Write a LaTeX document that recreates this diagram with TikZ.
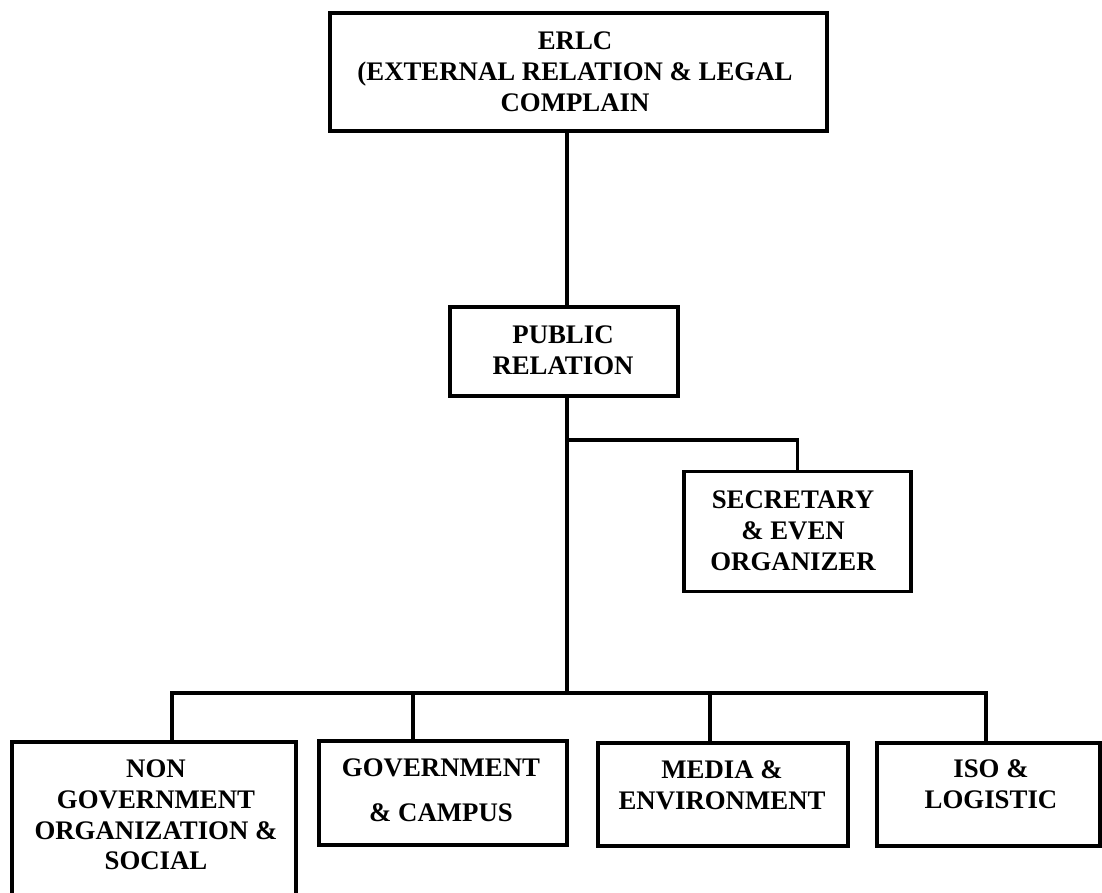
\documentclass[tikz,border=0pt]{standalone}
\usepackage{fontspec}
\setmainfont{Liberation Serif}
\begin{document}
\begin{tikzpicture}[x=1pt,y=-1pt,
  box/.style={draw, line width=3.8pt, rectangle, inner sep=0pt, fill=white},
  conn/.style={line width=3.8pt, line join=miter},
  lbl/.style={font=\bfseries\fontsize{26.8}{30.8}\selectfont, align=center, inner sep=0pt}]
\useasboundingbox (0,0) rectangle (1102,892);
\clip (0,0) rectangle (1102,892);
% boxes
\node[box, minimum width=497pt, minimum height=118pt] (erlc) at (578.5,72) {};
\node[box, minimum width=228pt, minimum height=89pt] (public) at (564,351.5) {};
\node[box, minimum width=227pt, minimum height=120pt] (sec) at (797.5,531.5) {};
\node[box, minimum width=284pt, minimum height=178pt] (non) at (154,831) {};
\node[box, minimum width=248pt, minimum height=104pt] (gov) at (443,793) {};
\node[box, minimum width=250pt, minimum height=103pt] (media) at (723,794.5) {};
\node[box, minimum width=223pt, minimum height=103pt] (iso) at (988.5,794.5) {};
% labels
\node[lbl] (erlcT) at (575,72) {ERLC\\(EXTERNAL RELATION \& LEGAL\\COMPLAIN};
\node[lbl] (publicT) at (563,350) {PUBLIC\\RELATION};
\node[lbl] (secT) at (793,531) {SECRETARY\\\& EVEN\\ORGANIZER};
\node[lbl] (nonT) at (156,815) {NON\\GOVERNMENT\\ORGANIZATION \&\\SOCIAL};
\node[lbl] (govT) at (441,790.5) {GOVERNMENT\\[14pt]\& CAMPUS};
\node[lbl] (mediaT) at (722,785) {MEDIA \&\\ENVIRONMENT};
\node[lbl] (isoT) at (991,784) {ISO \&\\LOGISTIC};
% junctions
\coordinate (j1) at (567,440);
\coordinate (trunkbar) at (567,693);
\coordinate (b1) at (172,693);
\coordinate (b2) at (413,693);
\coordinate (b3) at (710,693);
\coordinate (b4) at (986,693);
% connectors
\draw[conn] (erlc.south -| j1) -- (public.north -| j1);
\draw[conn] (public.south -| j1) -- (trunkbar);
\draw[conn] (j1) -| (sec.north);
\draw[conn] (b1 |- non.north) -- (b1) -- (b4) -- (b4 |- iso.north);
\draw[conn] (b2) -- (b2 |- gov.north);
\draw[conn] (b3) -- (b3 |- media.north);
\end{tikzpicture}
\end{document}
